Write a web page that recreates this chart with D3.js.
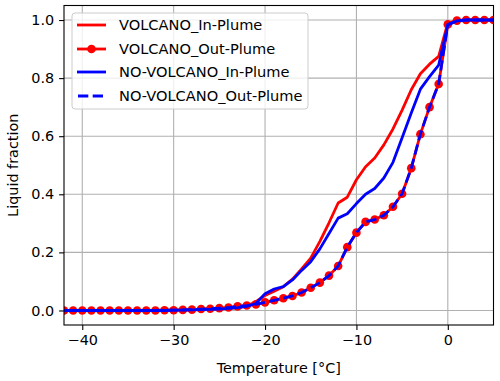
<!DOCTYPE html>
<html><head><meta charset="utf-8">
<script src="https://cdn.jsdelivr.net/npm/d3@7"></script>
<style>
body{margin:0;background:#fff;}
svg{display:block;font-family:"DejaVu Sans",sans-serif;}
</style></head>
<body><svg id="c" width="500" height="381"></svg>
<script>
const temps = [-42,-41,-40,-39,-38,-37,-36,-35,-34,-33,-32,-31,-30,-29,-28,-27,-26,-25,-24,-23,-22,-21,-20,-19,-18,-17,-16,-15,-14,-13,-12,-11,-10,-9,-8,-7,-6,-5,-4,-3,-2,-1,0,1,2,3,4,5];
const volcanoIn = [0,0,0,0,0,0,0,0,0,0,0,0,0.001,0.001,0.002,0.003,0.004,0.005,0.007,0.010,0.015,0.030,0.052,0.066,0.082,0.108,0.143,0.180,0.238,0.302,0.370,0.390,0.450,0.495,0.525,0.570,0.625,0.690,0.760,0.815,0.848,0.875,0.990,0.998,1,1,1,1];
const volcanoOut = [0,0,0,0,0,0,0,0,0,0,0,0.001,0.001,0.002,0.003,0.005,0.006,0.008,0.010,0.014,0.017,0.021,0.028,0.035,0.042,0.050,0.062,0.078,0.096,0.120,0.153,0.218,0.268,0.305,0.313,0.328,0.357,0.402,0.490,0.607,0.700,0.780,0.985,0.998,1,1,1,1];
const noVolcanoIn = [0,0,0,0,0,0,0,0,0,0,0,0,0.001,0.001,0.002,0.003,0.004,0.005,0.007,0.010,0.014,0.024,0.058,0.074,0.082,0.105,0.138,0.168,0.212,0.265,0.318,0.333,0.368,0.400,0.420,0.456,0.510,0.595,0.680,0.762,0.805,0.845,0.983,0.997,1,1,1,1];
const noVolcanoOut = [0,0,0,0,0,0,0,0,0,0,0,0.001,0.001,0.002,0.003,0.005,0.006,0.008,0.010,0.014,0.017,0.021,0.028,0.035,0.042,0.050,0.062,0.078,0.096,0.120,0.153,0.218,0.268,0.305,0.313,0.328,0.357,0.402,0.490,0.607,0.700,0.780,0.985,0.998,1,1,1,1];
const xTicks = [-40,-30,-20,-10,0];
const yTicks = [0,0.2,0.4,0.6,0.8,1.0];
const seriesNames = ["VOLCANO_In-Plume","VOLCANO_Out-Plume","NO-VOLCANO_In-Plume","NO-VOLCANO_Out-Plume"];

const L=64, R=493.5, T=5.5, B=325;
const svg = d3.select("#c");
const x = d3.scaleLinear().domain([-42,5]).range([L,R]);
const y = d3.scaleLinear().domain([-0.05,1.05]).range([B,T]);
const fs = 14.4;
const lfs = 14.6;

svg.append("defs").append("clipPath").attr("id","clip")
  .append("rect").attr("x",L).attr("y",T).attr("width",R-L).attr("height",B-T);

// grid
const g = svg.append("g");
g.selectAll(".gx").data(xTicks).enter().append("line")
  .attr("x1",d=>x(d)).attr("x2",d=>x(d)).attr("y1",T).attr("y2",B)
  .attr("stroke","#b0b0b0").attr("stroke-width",1.1);
g.selectAll(".gy").data(yTicks).enter().append("line")
  .attr("y1",d=>y(d)).attr("y2",d=>y(d)).attr("x1",L).attr("x2",R)
  .attr("stroke","#b0b0b0").attr("stroke-width",1.1);

const pts = arr => temps.map((t,i)=>[t,arr[i]]);
const line = d3.line().x(d=>x(d[0])).y(d=>y(d[1]));
const plot = svg.append("g").attr("clip-path","url(#clip)");
const lw = 2.8;
plot.append("path").attr("d",line(pts(volcanoIn))).attr("fill","none").attr("stroke","#ff0000").attr("stroke-width",lw).attr("stroke-linejoin","round");
plot.append("path").attr("d",line(pts(volcanoOut))).attr("fill","none").attr("stroke","#ff0000").attr("stroke-width",lw).attr("stroke-linejoin","round");
plot.selectAll(".dot").data(pts(volcanoOut)).enter().append("circle")
  .attr("cx",d=>x(d[0])).attr("cy",d=>y(d[1])).attr("r",4.3).attr("fill","#ff0000");
plot.append("path").attr("d",line(pts(noVolcanoIn))).attr("fill","none").attr("stroke","#0000ff").attr("stroke-width",lw).attr("stroke-linejoin","round");
plot.append("path").attr("d",line(pts(noVolcanoOut))).attr("fill","none").attr("stroke","#0000ff").attr("stroke-width",lw).attr("stroke-dasharray","10.3,4.4");

// axes
const xAxis = d3.axisBottom(x).tickValues(xTicks).tickSize(4.9).tickPadding(4.9).tickFormat(d=>d3.format("d")(d).replace("-","\u2212"));
const yAxis = d3.axisLeft(y).tickValues(yTicks).tickSize(4.9).tickPadding(4.9).tickFormat(d3.format(".1f"));
const gx = svg.append("g").attr("transform",`translate(0,${B})`).call(xAxis);
const gy = svg.append("g").attr("transform",`translate(${L},0)`).call(yAxis);
[gx,gy].forEach(a=>{
  a.select(".domain").remove();
  a.selectAll("line").attr("stroke","#000").attr("stroke-width",1.1);
  a.selectAll("text").attr("font-size",fs).attr("fill","#000").attr("font-family","DejaVu Sans");
});
svg.append("rect").attr("x",L).attr("y",T).attr("width",R-L).attr("height",B-T)
  .attr("fill","none").attr("stroke","#000").attr("stroke-width",1.1);

svg.append("text").attr("x",(L+R)/2).attr("y",373).attr("text-anchor","middle").attr("font-size",fs).text("Temperature [°C]");
svg.append("text").attr("transform",`translate(18,${(T+B)/2}) rotate(-90)`).attr("text-anchor","middle").attr("font-size",fs).text("Liquid fraction");

// legend
const lg = svg.append("g");
lg.append("rect").attr("x",72).attr("y",13).attr("width",236).attr("height",96).attr("rx",3)
  .attr("fill","#fff").attr("fill-opacity",0.8).attr("stroke","#cccccc").attr("stroke-width",1);
const rows = [25,49,72,96];
const styles = [
  {c:"#ff0000",dash:null,dot:false},
  {c:"#ff0000",dash:null,dot:true},
  {c:"#0000ff",dash:null,dot:false},
  {c:"#0000ff",dash:"10.3,4.4",dot:false}
];
seriesNames.forEach((n,i)=>{
  const yy = rows[i];
  const ln = lg.append("line").attr("x1",77).attr("x2",106).attr("y1",yy).attr("y2",yy)
    .attr("stroke",styles[i].c).attr("stroke-width",lw);
  if(styles[i].dash) ln.attr("stroke-dasharray",styles[i].dash).attr("x1",78);
  if(styles[i].dot) lg.append("circle").attr("cx",91.5).attr("cy",yy).attr("r",4.3).attr("fill",styles[i].c);
  lg.append("text").attr("x",119).attr("y",yy).attr("dy","0.36em").attr("font-size",lfs).text(n);
});
</script></body></html>
